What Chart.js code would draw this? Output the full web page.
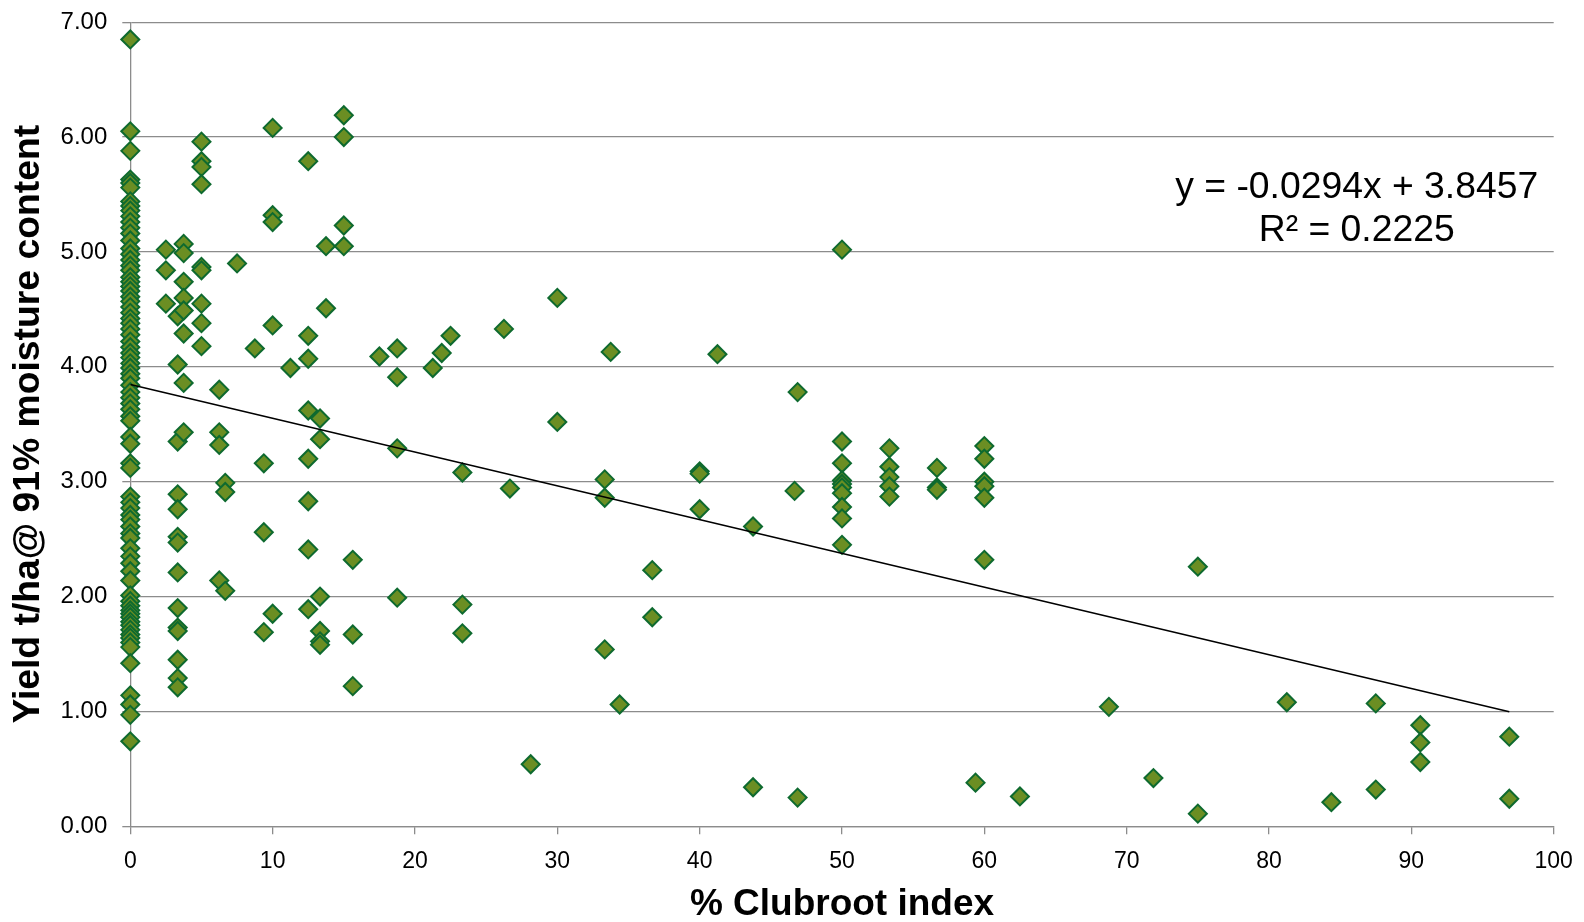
<!DOCTYPE html>
<html>
<head>
<meta charset="utf-8">
<script src="https://cdn.jsdelivr.net/npm/chart.js@4/dist/chart.umd.min.js"></script>
<style>
  html, body { margin: 0; padding: 0; background: #ffffff; }
  canvas { display: block; }
</style>
</head>
<body>
<canvas id="chart" width="1584" height="922"></canvas>
<script>
// % clubroot index levels observed in the plots
const clubrootLevels = [
  0, 2.5, 3.33, 3.75, 5, 6.25, 6.67, 7.5, 8.75, 9.38, 10, 11.25, 12.5, 13.33, 13.75,
  15, 15.63, 17.5, 18.75, 21.25, 21.88, 22.5, 23.33, 26.25, 26.67, 28.13, 30, 33.33,
  33.75, 34.38, 36.67, 40, 41.25, 43.75, 46.67, 46.88, 50, 53.33, 56.67, 59.38, 60,
  62.5, 68.75, 71.88, 75, 81.25, 84.38, 87.5, 90.63, 96.88
];

// Yield (t/ha @ 91% moisture) recorded at each clubroot index level
const yieldByLevel = [
  [6.85, 6.05, 5.88, 5.63, 5.60, 5.56, 5.44, 5.40, 5.36, 5.31, 5.26, 5.21, 5.16, 5.10, 5.03,
   4.98, 4.93, 4.88, 4.84, 4.78, 4.74, 4.70, 4.66, 4.61, 4.57, 4.52, 4.47, 4.42, 4.38, 4.33,
   4.28, 4.22, 4.17, 4.12, 4.08, 4.03, 3.99, 3.94, 3.90, 3.84, 3.78, 3.73, 3.68, 3.63, 3.57,
   3.53, 3.39, 3.33, 3.16, 3.12, 2.87, 2.82, 2.77, 2.71, 2.67, 2.61, 2.55, 2.51, 2.42, 2.35,
   2.29, 2.22, 2.14, 2.01, 1.96, 1.92, 1.88, 1.85, 1.82, 1.78, 1.75, 1.71, 1.67, 1.64, 1.60,
   1.56, 1.42, 1.14, 1.06, 0.97, 0.74],
  [5.02, 4.84, 4.55],
  [4.44, 4.02, 3.35, 2.89, 2.76, 2.52, 2.47, 2.21, 1.90, 1.73, 1.70, 1.45, 1.29, 1.21],
  [5.07, 4.99, 4.74, 4.60, 4.49, 4.29, 3.86, 3.43],
  [5.96, 5.79, 5.74, 5.59, 4.87, 4.84, 4.55, 4.38, 4.18],
  [3.80, 3.43, 3.32, 2.14],
  [2.99, 2.91, 2.05],
  [4.90],
  [4.16],
  [3.16, 2.56, 1.69],
  [6.08, 5.32, 5.26, 4.36, 1.85],
  [3.99],
  [5.79, 4.27, 4.07, 3.62, 3.20, 2.83, 2.41, 1.89],
  [3.55, 3.37, 2.00, 1.70, 1.61, 1.58],
  [5.05, 4.51],
  [6.19, 6.00, 5.23, 5.05],
  [2.32, 1.67, 1.22],
  [4.09],
  [4.16, 3.91, 3.29, 1.99],
  [3.99],
  [4.12],
  [4.27],
  [3.08, 1.93, 1.68],
  [4.33],
  [2.94],
  [0.54],
  [4.60, 3.52],
  [3.02, 2.86, 1.54],
  [4.13],
  [1.06],
  [2.23, 1.82],
  [3.09, 3.07, 2.76],
  [4.11],
  [2.61, 0.34],
  [2.92],
  [3.78, 0.25],
  [5.02, 3.35, 3.16, 3.01, 2.98, 2.95, 2.90, 2.78, 2.68, 2.45],
  [3.29, 3.13, 3.04, 2.96, 2.87],
  [3.12, 2.95, 2.93],
  [0.38],
  [3.31, 3.20, 3.00, 2.96, 2.86, 2.32],
  [0.26],
  [1.04],
  [0.42],
  [2.26, 0.11],
  [1.08],
  [0.21],
  [1.07, 0.32],
  [0.88, 0.73, 0.56],
  [0.78, 0.24]
];

// Linear trendline fitted to the yields
const trendSlope = -0.0294;
const trendIntercept = 3.8457;
const trendR2 = 0.2225;

// Axis ranges and titles
const xRange = [0, 100, 10];
const yRange = [0, 7, 1];
const xTitle = '% Clubroot index';
const yTitle = 'Yield t/ha@ 91% moisture content';

const FONT = '"Liberation Sans", Arial, Helvetica, sans-serif';
const GRID = '#8C8C8C';

const points = [];
clubrootLevels.forEach((lvl, i) => {
  yieldByLevel[i].forEach(v => points.push({ x: lvl, y: v }));
});

const xMax = Math.max(...clubrootLevels);
const trendPoints = [
  { x: 0, y: trendIntercept },
  { x: xMax, y: trendSlope * xMax + trendIntercept }
];

// Regression equation and R² written in the upper right of the plot
const equationLabel = {
  id: 'equationLabel',
  afterDatasetsDraw(chart) {
    const { ctx, chartArea } = chart;
    ctx.save();
    ctx.font = '37.3px ' + FONT;
    ctx.fillStyle = '#000000';
    ctx.textAlign = 'center';
    ctx.textBaseline = 'middle';
    const cx = chartArea.right - 197;
    const cy = chartArea.top + 166;
    ctx.fillText('y = ' + trendSlope.toFixed(4) + 'x + ' + trendIntercept.toFixed(4), cx, cy);
    ctx.fillText('R\u00B2 = ' + trendR2.toFixed(4), cx, cy + 43);
    ctx.restore();
  }
};

Chart.defaults.font.family = FONT;
Chart.defaults.color = '#000000';

new Chart(document.getElementById('chart'), {
  type: 'scatter',
  data: {
    datasets: [
      {
        label: 'Linear trend',
        data: trendPoints,
        showLine: true,
        borderColor: '#000000',
        borderWidth: 1.6,
        pointRadius: 0,
        fill: false,
        order: 0
      },
      {
        label: 'Yield',
        data: points,
        pointStyle: 'rectRot',
        pointRadius: 9,
        pointBackgroundColor: '#6B8E23',
        pointBorderColor: '#0E6A2F',
        pointBorderWidth: 2,
        clip: false,
        order: 1
      }
    ]
  },
  options: {
    responsive: false,
    devicePixelRatio: 1,
    animation: false,
    layout: { padding: { top: 22.2, right: 30.3, left: 0, bottom: 0 } },
    plugins: {
      legend: { display: false },
      tooltip: { enabled: false }
    },
    scales: {
      x: {
        type: 'linear',
        min: xRange[0],
        max: xRange[1],
        afterFit(scale) {
          scale.height = 95.7;
          scale.paddingLeft = 0;
          scale.paddingRight = 0;
        },
        ticks: {
          stepSize: xRange[2],
          padding: 14,
          maxRotation: 0,
          color: '#000000',
          font: { size: 23 }
        },
        grid: {
          drawOnChartArea: false,
          drawTicks: true,
          tickLength: 8,
          color: GRID,
          lineWidth: 1.3
        },
        border: { color: GRID, width: 1.3 },
        title: {
          display: true,
          text: xTitle,
          color: '#000000',
          font: { size: 37, weight: 'bold', lineHeight: '34px' },
          padding: { top: 0, bottom: 0 }
        }
      },
      y: {
        type: 'linear',
        min: yRange[0],
        max: yRange[1],
        afterFit(scale) {
          scale.width = 130.3;
          scale.paddingTop = 0;
          scale.paddingBottom = 0;
        },
        ticks: {
          stepSize: yRange[2],
          padding: 15,
          color: '#000000',
          font: { size: 24 },
          callback: v => Number(v).toFixed(2)
        },
        grid: {
          color: GRID,
          lineWidth: 1.3,
          tickLength: 8
        },
        border: { color: GRID, width: 1.3 },
        title: {
          display: true,
          text: yTitle,
          color: '#000000',
          font: { size: 37.3, weight: 'bold' },
          padding: { top: 6.5, bottom: 0 }
        }
      }
    }
  },
  plugins: [equationLabel]
});
</script>
</body>
</html>
